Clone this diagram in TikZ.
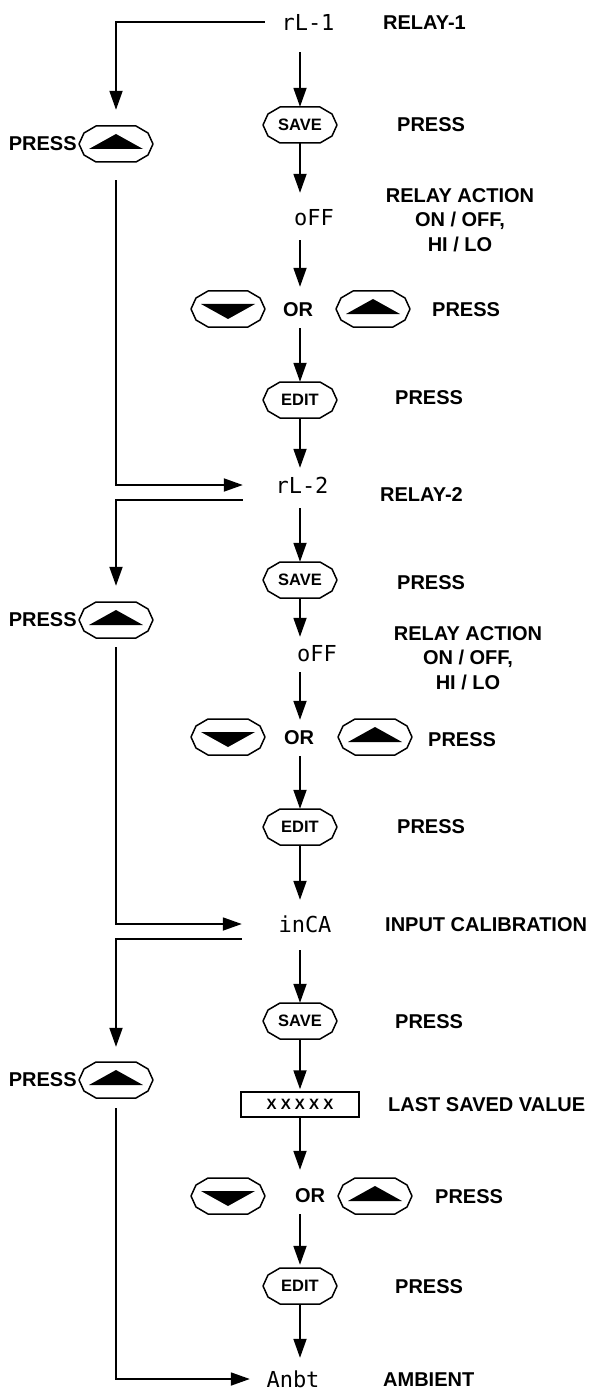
\documentclass[tikz,border=0pt]{standalone}
\usepackage{fontspec}
\setmainfont{Liberation Sans}
\newfontfamily\segfont{DejaVu Sans Mono}
\usetikzlibrary{arrows.meta}
\newcommand\keyoutline[1]{\draw[keyline, shift={(#1.center)}] (-37,0) -- (-32,-11) -- (-20,-18) -- (20,-18) -- (32,-11) -- (37,0) -- (32,11) -- (20,18) -- (-20,18) -- (-32,11) -- cycle;}
\newcommand\uptri[1]{\fill[shift={(#1.center)}] (-27,5) -- (27,5) -- (0,-10) -- cycle;}
\newcommand\downtri[1]{\fill[shift={(#1.center)}] (-27,-5) -- (27,-5) -- (0,10) -- cycle;}
\begin{document}
\begin{tikzpicture}[x=1pt,y=-1pt,
  lbl/.style={font=\fontsize{20}{24.5}\selectfont\bfseries, inner sep=0pt},
  disp/.style={font=\segfont\fontsize{22}{22}\selectfont, inner sep=0pt, minimum width=60pt, minimum height=26pt},
  key/.style={inner sep=0pt, minimum width=74pt, minimum height=36pt, font=\fontsize{16.5}{16.5}\selectfont\bfseries},
  keyline/.style={line width=1.5pt, line join=round},
  arr/.style={line width=1.8pt, -{Triangle[length=19pt,width=13pt]}},
  ornode/.style={inner sep=0pt, minimum height=36pt, font=\fontsize{20}{20}\selectfont\bfseries},
  valbox/.style={draw, line width=1.5pt, inner sep=0pt, minimum width=118pt, minimum height=25pt, font=\fontsize{15}{15}\selectfont\bfseries},
]
\useasboundingbox (0,0) rectangle (592,1396);

% ---------- section 1 ----------
\node[disp] (d1) at (308,22) {rL-1};
\node[lbl,anchor=west] (t1) at (383,23) {RELAY-1};
\node[key] (s1) at (300,125) {SAVE}; \keyoutline{s1}
\node[lbl,anchor=west] (t2) at (397,125) {PRESS};
\node[key] (u1) at (116,144) {}; \keyoutline{u1}\uptri{u1}
\node[lbl,anchor=east] (t3) at ([xshift=-2pt]u1.west) {PRESS};
\node[disp] (o1) at (314,218) {oFF};
\node[lbl,align=center] (t4) at (460,220) {RELAY ACTION\\ON / OFF,\\HI / LO};
\node[key] (k1d) at (228,309) {}; \keyoutline{k1d}\downtri{k1d}
\node[ornode] (or1) at (298,310) {OR};
\node[key] (k1u) at (373,309) {}; \keyoutline{k1u}\uptri{k1u}
\node[lbl,anchor=west] (t5) at (432,310) {PRESS};
\node[key] (e1) at (300,400) {EDIT}; \keyoutline{e1}
\node[lbl,anchor=west] (t6) at (395,398) {PRESS};

% ---------- section 2 ----------
\node[disp] (d2) at (302,485) {rL-2};
\node[lbl,anchor=west] (t7) at (380,495) {RELAY-2};
\node[key] (s2) at (300,580) {SAVE}; \keyoutline{s2}
\node[lbl,anchor=west] (t8) at (397,583) {PRESS};
\node[key] (u2) at (116,620) {}; \keyoutline{u2}\uptri{u2}
\node[lbl,anchor=east] (t9) at ([xshift=-2pt]u2.west) {PRESS};
\node[disp] (o2) at (317,654) {oFF};
\node[lbl,align=center] (t10) at (468,658) {RELAY ACTION\\ON / OFF,\\HI / LO};
\node[key] (k2d) at (228,737) {}; \keyoutline{k2d}\downtri{k2d}
\node[ornode] (or2) at (299,738) {OR};
\node[key] (k2u) at (375,737) {}; \keyoutline{k2u}\uptri{k2u}
\node[lbl,anchor=west] (t11) at (428,740) {PRESS};
\node[key] (e2) at (300,827) {EDIT}; \keyoutline{e2}
\node[lbl,anchor=west] (t12) at (397,827) {PRESS};

% ---------- section 3 ----------
\node[disp] (d3) at (305,924) {inCA};
\node[lbl,anchor=west] (t13) at (385,925) {INPUT CALIBRATION};
\node[key] (s3) at (300,1021) {SAVE}; \keyoutline{s3}
\node[lbl,anchor=west] (t14) at (395,1022) {PRESS};
\node[key] (u3) at (116,1080) {}; \keyoutline{u3}\uptri{u3}
\node[lbl,anchor=east] (t15) at ([xshift=-2pt]u3.west) {PRESS};
\node[valbox] (box) at (300,1104.5) {X X X X X};
\node[lbl,anchor=west] (t16) at (388,1105) {LAST SAVED VALUE};
\node[key] (k3d) at (228,1196) {}; \keyoutline{k3d}\downtri{k3d}
\node[ornode] (or3) at (310,1196) {OR};
\node[key] (k3u) at (375,1196) {}; \keyoutline{k3u}\uptri{k3u}
\node[lbl,anchor=west] (t17) at (435,1197) {PRESS};
\node[key] (e3) at (300,1286) {EDIT}; \keyoutline{e3}
\node[lbl,anchor=west] (t18) at (395,1287) {PRESS};
\node[disp] (d4) at (293,1379) {Anbt};
\node[lbl,anchor=west] (t19) at (383,1380) {AMBIENT};

% ---------- main column ----------
\draw[arr,shorten <=17pt] (d1.south -| s1) -- (s1.north);
\draw[arr,shorten >=12pt] (s1.south) -- (o1.north -| s1);
\draw[arr,shorten <=9pt,shorten >=5pt] (o1.south -| s1) -- (or1.north -| s1);
\draw[arr] (or1.south -| s1) -- (e1.north);
\draw[arr,shorten >=4pt] (e1.south) -- (d2.north -| e1);

\draw[arr,shorten <=10pt] (d2.south -| s2) -- (s2.north);
\draw[arr,shorten >=4pt] (s2.south) -- (o2.north -| s2);
\draw[arr,shorten <=5pt] (o2.south -| s2) -- (or2.north -| s2);
\draw[arr] (or2.south -| s2) -- (e2.north);
\draw[arr,shorten >=11pt] (e2.south) -- (d3.north -| e2);

\draw[arr,shorten <=13pt] (d3.south -| s3) -- (s3.north);
\draw[arr,shorten >=2pt] (s3.south) -- (box.north);
\draw[arr,shorten >=8pt] (box.south) -- (or3.north -| box);
\draw[arr,shorten >=3pt] (or3.south -| box) -- (e3.north);
\draw[arr,shorten >=8pt] (e3.south) -- (d4.north -| e3);

% ---------- left column ----------
\draw[arr] ([xshift=-13pt]d1.west) -| ([yshift=16pt]u1.north);
\draw[arr] ([yshift=-18pt]u1.south) |- ([xshift=-29pt]d2.west);
\draw[arr] ([xshift=-29pt,yshift=-15pt]d2.west) -| ([yshift=16pt]u2.north);
\draw[arr] ([yshift=-9pt]u2.south) |- ([xshift=-33pt]d3.west);
\draw[arr] ([xshift=-33pt,yshift=-15pt]d3.west) -| ([yshift=15pt]u3.north);
\draw[arr] ([yshift=-10pt]u3.south) |- ([xshift=-13pt]d4.west);
\end{tikzpicture}
\end{document}
